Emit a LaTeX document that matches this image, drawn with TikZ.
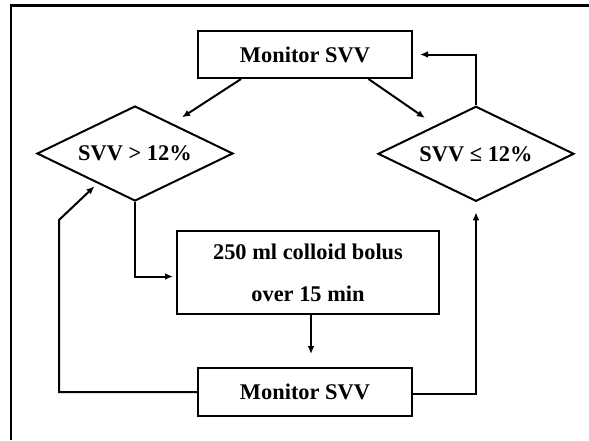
\documentclass[tikz,border=0pt]{standalone}
\usepackage{fontspec}
\setmainfont{Liberation Serif}
\usetikzlibrary{arrows.meta,shapes.geometric,calc}

\begin{document}
\begin{tikzpicture}[x=0.5pt,y=-0.5pt,>={Latex[length=4pt,width=3.4pt]},
        box/.style={draw,line width=1pt,inner sep=0pt,minimum width=107pt,
              minimum height=23.5pt,font=\fontsize{11.2}{21}\selectfont\bfseries,
              align=center},
        decision/.style={draw,diamond,aspect=2,line width=1pt,inner sep=0pt,
              minimum width=98pt,minimum height=47.5pt,
              font=\fontsize{11.2}{13}\selectfont\bfseries},
        link/.style={->,line width=1pt}]
        \useasboundingbox (0,0) rectangle (589,440);
        \draw[line width=1.3pt] (11,440) -- (11,5.6) -- (589,5.6);

        \node[box] (monitor) at (305,54.5) {Monitor SVV};
        \node[decision] (high) at (135,153.5) {SVV > 12\%};
        \node[decision] (low) at (476,153.8) {SVV ≤ 12\%};
        \node[box,minimum width=131pt,minimum height=41.5pt] (bolus)
              at (308,272.5) {250 ml colloid bolus\\over 15 min};
        \node[box,minimum height=24pt] (recheck) at (305,392) {Monitor SVV};
        \coordinate (bend) at (59,220);

        \draw[link,shorten >=5.6pt] ($(monitor.south west)!0.204!(monitor.south east)$)
              -- ($(high.north)!0.38!(high.east)$);
        \draw[link,shorten >=6.4pt] ($(monitor.south west)!0.794!(monitor.south east)$)
              -- ($(low.north)!0.41!(low.west)$);
        \draw[link,shorten >=3.5pt] (low.north) |- (monitor.east);
        \draw[link,shorten >=1.5pt] (high.south) |- ([yshift=-2pt]bolus.west);
        \draw[link,shorten >=6.5pt] ([xshift=1.5pt]bolus.south) -- ([xshift=3pt]recheck.north);
        \draw[link,shorten >=2pt] (recheck.west) -| (bend)
              -- ($(high.west)!0.62!(high.south)$);
        \draw[link,shorten >=5pt] ([yshift=-1pt]recheck.east) -| (low.south);
    \end{tikzpicture}
\end{document}
